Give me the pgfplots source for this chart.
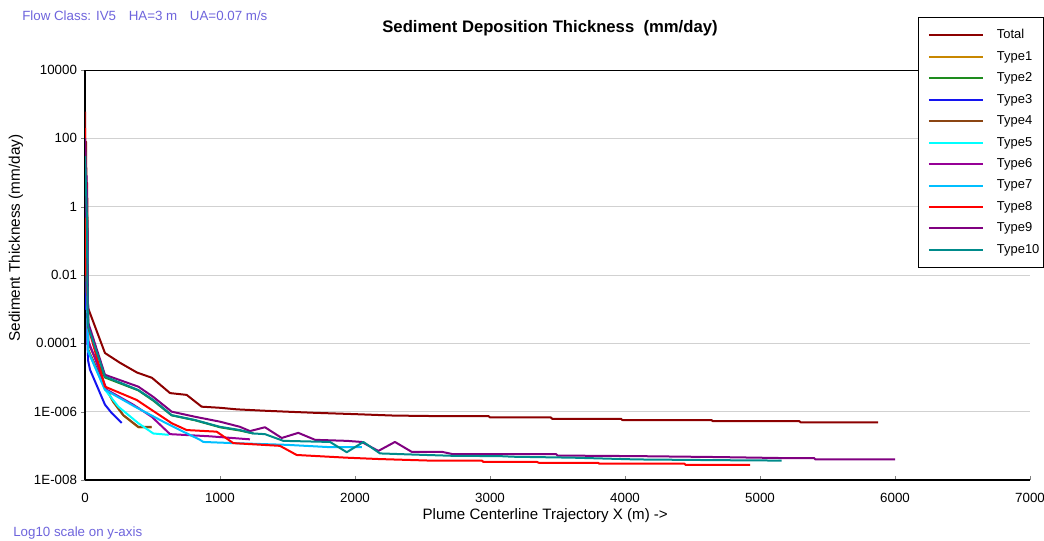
\documentclass[border=0pt]{standalone}
\usepackage{fontspec}
\setmainfont{Liberation Sans}
\usepackage{pgfplots}
\pgfplotsset{compat=1.18}
\definecolor{cTotal}{RGB}{140,0,0}
\definecolor{cT1}{RGB}{200,135,0}
\definecolor{cT2}{RGB}{30,140,30}
\definecolor{cT3}{RGB}{20,20,240}
\definecolor{cT4}{RGB}{139,69,19}
\definecolor{cT5}{RGB}{0,255,255}
\definecolor{cT6}{RGB}{150,0,150}
\definecolor{cT7}{RGB}{0,191,255}
\definecolor{cT8}{RGB}{255,0,0}
\definecolor{cT9}{RGB}{128,0,128}
\definecolor{cT10}{RGB}{0,139,139}
\definecolor{notec}{RGB}{110,100,220}
\begin{document}
\begin{tikzpicture}[x=0.75pt,y=0.75pt]
\path[use as bounding box] (0,0) rectangle (1044,540);
\node[anchor=west, text=notec, font=\fontsize{10}{12}\selectfont, inner sep=0pt] at (22,524) {Flow Class: IV5\hspace{0.95em}HA=3 m\hspace{0.95em}UA=0.07 m/s};
\node[font=\bfseries\fontsize{12.5}{15}\selectfont, inner sep=0pt] at (550,512) {Sediment Deposition Thickness\ \ (mm/day)};
\node[anchor=west, text=notec, font=\fontsize{10}{12}\selectfont, inner sep=0pt] at (13,7) {Log10 scale on y-axis};
\begin{axis}[
  at={(63.75pt,45pt)}, anchor=south west,
  scale only axis, width=708.75pt, height=307.5pt,
  xmin=0, xmax=7000, ymin=1e-8, ymax=1e4,
  ymode=log,
  xtick={0,1000,2000,3000,4000,5000,6000,7000},
  ytick={1e-8,1e-6,1e-4,1e-2,1,100,1e4},
  yticklabels={1E-008,1E-006,0.0001,0.01,1,100,10000},
  yminorticks=false,
  scaled x ticks=false,
  /pgf/number format/assume math mode=true,
  /pgf/number format/1000 sep={},
  tick label style={font=\fontsize{10}{12}\selectfont},
  xticklabel style={yshift=-6pt},
  yticklabel style={xshift=-2.5pt},
  tick pos=left, tick align=inside, major tick length=3pt,
  y tick style={xshift=-3pt},
  ymajorgrids=true,
  major grid style={color=black!18, line width=0.75pt},
  axis x line*=bottom, axis y line*=left,
  axis line style={black, line width=0.9pt, -},
  xlabel={Plume Centerline Trajectory X (m) ->},
  ylabel={Sediment Thickness (mm/day)},
  every axis x label/.style={at={(axis description cs:0.487,-0.088)}, anchor=center, font=\fontsize{11.3}{13}\selectfont},
  every axis y label/.style={at={(axis description cs:-0.073,0.59)}, anchor=center, rotate=90, font=\fontsize{11.5}{13}\selectfont},
  legend style={at={(axis description cs:0.8815,1.1293)}, anchor=north west,
    draw=black, line width=0.9pt, fill=white,
    font=\fontsize{9.7}{11}\selectfont,
    cells={anchor=west},
    nodes={inner sep=0pt, minimum height=16.1pt},
    inner xsep=3pt, inner ysep=5.2pt, row sep=0pt,
    /tikz/every odd column/.append style={column sep=9.75pt}},
  legend image code/.code={\path (0pt,0pt); \draw[#1, line width=1.5pt] (4pt,0pt) -- (44.5pt,0pt);},
  every axis plot/.append style={line width=1.5pt, line join=round, no markers},
]
\addplot[cTotal] coordinates {(0,600)(4,1)(8,80)(12,0.3)(16,5)(19,0.05)(22,1.1e-3)(148,5.2e-5)(259,2.7e-5)(385,1.4e-5)(496,9.8e-6)(630,3.5e-6)(753,3.1e-6)(864,1.4e-6)(1000,1.3e-6)(1124,1.17e-6)(1321,1.07e-6)(1494,1.0e-6)(1691,9.3e-7)(1988,8.5e-7)(2284,7.7e-7)(2630,7.4e-7)(2990,7.4e-7)(3000,6.8e-7)(3450,6.8e-7)(3460,6.2e-7)(3970,6.2e-7)(3980,5.7e-7)(4640,5.7e-7)(4650,5.3e-7)(5290,5.3e-7)(5300,4.9e-7)(5874,4.9e-7)};
\addlegendentry{Total}
\addplot[cT1] coordinates {(0,20)(6,0.05)(12,1)(18,1e-3)(24,6e-5)(148,5.2e-6)(210,1.9e-6)(284,7.8e-7)(395,3.5e-7)(494,3.5e-7)};
\addlegendentry{Type1}
\addplot[cT2] coordinates {(0,10)(6,0.3)(12,0.01)(18,0.5)(24,1e-4)(148,1.0e-5)(395,4.2e-6)(506,2.1e-6)(642,7.8e-7)(815,5.6e-7)(1000,3.5e-7)(1148,2.8e-7)(1247,2.3e-7)};
\addlegendentry{Type2}
\addplot[cT3] coordinates {(0,50)(6,0.001)(12,0.2)(18,1e-4)(24,3e-5)(37,1.7e-5)(148,1.6e-6)(198,9.1e-7)(272,4.7e-7)};
\addlegendentry{Type3}
\addplot[cT4] coordinates {(0,30)(6,0.5)(12,0.003)(18,0.02)(24,6.5e-5)(148,5.4e-6)(210,1.95e-6)(284,7.9e-7)(395,3.6e-7)(494,3.6e-7)};
\addlegendentry{Type4}
\addplot[cT5] coordinates {(0,80)(6,0.2)(12,2)(18,0.001)(24,5.8e-5)(148,4.4e-6)(247,1.4e-6)(395,4.6e-7)(506,2.3e-7)(620,2.1e-7)};
\addlegendentry{Type5}
\addplot[cT6] coordinates {(0,60)(6,3)(12,0.05)(18,0.4)(24,1.2e-4)(161,4.4e-6)(358,1.6e-6)(494,7.1e-7)(630,2.2e-7)(926,1.9e-7)(1222,1.55e-7)};
\addlegendentry{Type6}
\addplot[cT7] coordinates {(0,40)(6,1)(12,0.01)(18,0.1)(24,5.8e-5)(148,4.4e-6)(370,1.4e-6)(580,5.1e-7)(728,2.6e-7)(852,1.5e-7)(876,1.3e-7)(1099,1.2e-7)(1494,1.07e-7)(1827,9.1e-8)(2050,9.1e-8)};
\addlegendentry{Type7}
\addplot[cT8] coordinates {(0,200)(6,0.01)(12,5)(18,0.003)(24,3e-4)(148,5.4e-6)(383,2.2e-6)(642,4.6e-7)(753,2.9e-7)(975,2.6e-7)(1099,1.2e-7)(1444,1.0e-7)(1568,5.4e-8)(1939,4.5e-8)(2185,4.1e-8)(2556,3.7e-8)(2940,3.7e-8)(2950,3.4e-8)(3346,3.4e-8)(3360,3.2e-8)(3800,3.2e-8)(3810,3.0e-8)(4440,3.0e-8)(4450,2.75e-8)(4926,2.75e-8)};
\addlegendentry{Type8}
\addplot[cT9] coordinates {(0,100)(6,0.5)(12,8)(18,0.03)(24,4e-4)(148,1.2e-5)(395,5.4e-6)(506,2.7e-6)(642,1.0e-6)(815,7.1e-7)(1000,5.1e-7)(1148,3.6e-7)(1222,2.7e-7)(1333,3.5e-7)(1457,1.7e-7)(1580,2.4e-7)(1704,1.5e-7)(1939,1.4e-7)(2049,1.3e-7)(2173,7.1e-8)(2296,1.3e-7)(2419,6.7e-8)(2642,6.7e-8)(2726,5.7e-8)(3490,5.7e-8)(3500,5.2e-8)(4087,5.0e-8)(4679,4.7e-8)(5148,4.4e-8)(5400,4.4e-8)(5410,4.0e-8)(6000,4.0e-8)};
\addlegendentry{Type9}
\addplot[cT10] coordinates {(0,30)(8,3)(14,0.5)(20,1e-3)(24,3e-4)(148,1.07e-5)(395,4.3e-6)(506,2.2e-6)(642,7.9e-7)(815,5.7e-7)(1000,3.6e-7)(1148,2.9e-7)(1247,2.3e-7)(1333,2.2e-7)(1469,1.4e-7)(1815,1.3e-7)(1939,6.5e-8)(2062,1.3e-7)(2185,6.0e-8)(2407,5.6e-8)(2728,5.1e-8)(3074,5.0e-8)(3173,4.8e-8)(3617,4.5e-8)(4087,4.0e-8)(4728,3.8e-8)(5160,3.7e-8)};
\addlegendentry{Type10}
\draw[black, line width=0.9pt] (rel axis cs:0,1) -- (rel axis cs:1,1);
\end{axis}
\end{tikzpicture}
\end{document}
